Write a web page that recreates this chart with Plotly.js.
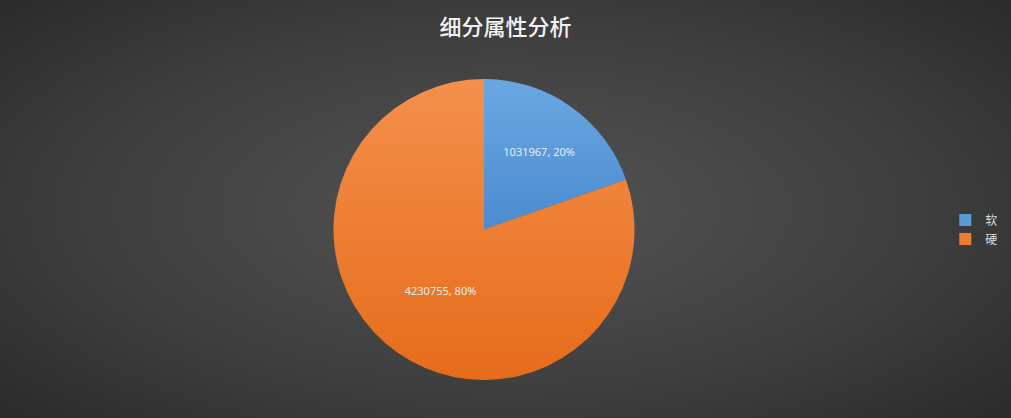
<!DOCTYPE html>
<html>
<head>
<meta charset="utf-8">
<script src="https://cdn.plot.ly/plotly-3.0.1.min.js"></script>
<style>
html,body{margin:0;padding:0;}
#chart{width:1011px;height:418px;background:radial-gradient(ellipse 75% 80% at 50% 50%, #545454 0%, #3e3e3e 55%, #262626 100%);}
</style>
</head>
<body>
<div id="chart"></div>
<script>
const categories = ["软", "硬"];
const values = [1031967, 4230755];
const colors = ["#5b9bd5", "#ed7d31"];
const gradTop = ["#6ba8e2", "#f4904c"];
const gradBottom = ["#4b8bcf", "#e66c1b"];
const titleText = "细分属性分析";

const total = values.reduce((a, b) => a + b, 0);
const pctText = values.map(v => Math.round(v / total * 100) + "%");

const trace = {
  type: "pie",
  labels: categories,
  values: values,
  text: pctText,
  sort: false,
  direction: "clockwise",
  rotation: 0,
  marker: {colors: colors, line: {width: 0}},
  texttemplate: "%{value:.0f}, %{text}",
  textposition: "inside",
  insidetextorientation: "horizontal",
  textfont: {family: "Noto Sans, sans-serif", size: 11, color: "#e6eef7"},
  hoverinfo: "label+value+percent",
  domain: {x: [(484 - 150.5) / 1011, (484 + 150.5) / 1011], y: [0, 1]},
  showlegend: true
};

const layout = {
  width: 1011,
  height: 418,
  margin: {l: 0, r: 0, t: 79, b: 38, autoexpand: false},
  paper_bgcolor: "rgba(0,0,0,0)",
  plot_bgcolor: "rgba(0,0,0,0)",
  title: {
    text: titleText,
    x: 0.5,
    xanchor: "center",
    y: 0.935,
    yanchor: "middle",
    font: {family: "Noto Sans CJK SC, sans-serif", size: 22, color: "#f2f2f2", weight: 500}
  },
  legend: {
    x: 0.935,
    xanchor: "left",
    y: 0.5,
    yanchor: "middle",
    font: {family: "Noto Sans CJK SC, sans-serif", size: 12, color: "#d9d9d9"},
    bgcolor: "rgba(0,0,0,0)",
    itemwidth: 30,
    tracegroupgap: 0
  },
  font: {family: "Noto Sans CJK SC, sans-serif"}
};

Plotly.newPlot("chart", [trace], layout, {displayModeBar: false, staticPlot: true}).then(gd => {
  const svg = gd.querySelector("svg.main-svg");
  const ns = "http://www.w3.org/2000/svg";
  let defs = svg.querySelector("defs");
  if (!defs) { defs = document.createElementNS(ns, "defs"); svg.insertBefore(defs, svg.firstChild); }
  gd.querySelectorAll("g.slice").forEach((g, i) => {
    const id = "sliceGrad" + i;
    const lg = document.createElementNS(ns, "linearGradient");
    lg.setAttribute("id", id);
    lg.setAttribute("x1", "0"); lg.setAttribute("y1", "0");
    lg.setAttribute("x2", "0"); lg.setAttribute("y2", "1");
    [[0, gradTop[i]], [1, gradBottom[i]]].forEach(([o, c]) => {
      const s = document.createElementNS(ns, "stop");
      s.setAttribute("offset", o);
      s.setAttribute("stop-color", c);
      lg.appendChild(s);
    });
    defs.appendChild(lg);
    const p = g.querySelector("path.surface");
    if (p) p.style.fill = "url(#" + id + ")";
  });
});
</script>
</body>
</html>
